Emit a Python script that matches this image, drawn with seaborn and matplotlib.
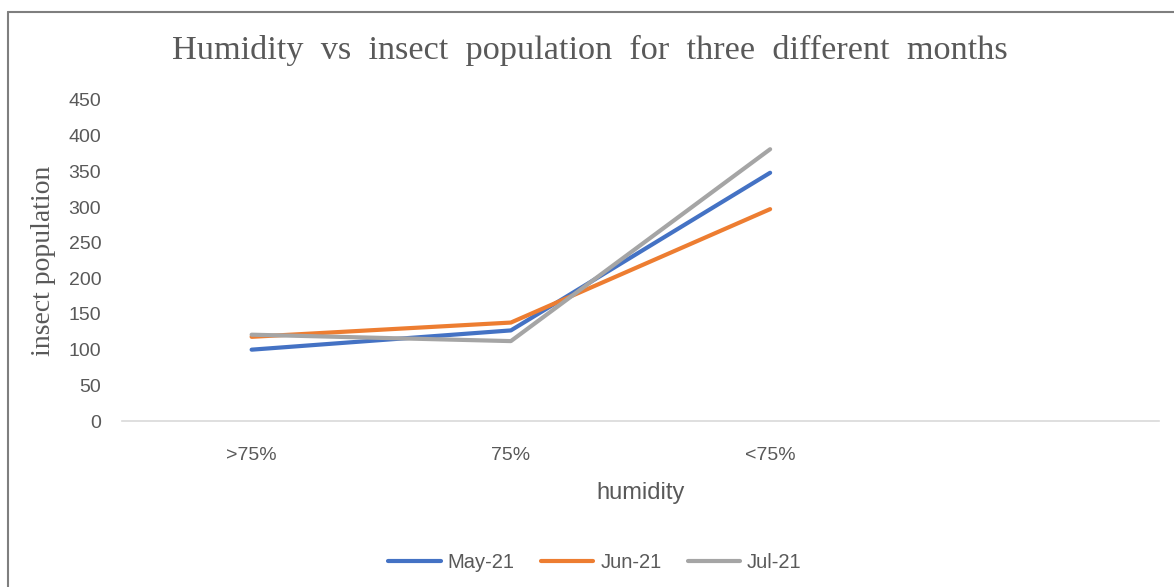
import matplotlib
matplotlib.use("Agg")
import matplotlib.pyplot as plt
from matplotlib.lines import Line2D
import seaborn as sns
import pandas as pd

categories = [">75%", "75%", "<75%"]
series_names = ["May-21", "Jun-21", "Jul-21"]
may_values = [100, 127, 348]
jun_values = [118, 138, 297]
jul_values = [121, 112, 381]
colors = ["#4472C4", "#ED7D31", "#A5A5A5"]

rows = []
for name, vals in zip(series_names, [may_values, jun_values, jul_values]):
    for c, v in zip(categories, vals):
        rows.append({"humidity": c, "population": v, "month": name})
df = pd.DataFrame(rows)

sns.set_theme(style="white")
plt.rcParams["font.family"] = ["Liberation Sans", "DejaVu Sans"]
text_color = "#595959"

fig = plt.figure(figsize=(11.74, 5.87), dpi=100)
ax = fig.add_axes([122/1174, 1-421/587, 1037/1174, 321/587])

sns.lineplot(data=df, x="humidity", y="population", hue="month",
             hue_order=series_names, palette=colors, sort=False,
             linewidth=3, ax=ax, legend=False)

ax.set_xlim(-0.5, 3.5)
ax.set_ylim(0, 450)
ax.set_yticks(range(0, 451, 50))
ax.set_xticks(range(len(categories)))
ax.set_xticklabels(categories)
for s in ["top", "right", "left"]:
    ax.spines[s].set_visible(False)
ax.spines["bottom"].set_color("#D9D9D9")
ax.spines["bottom"].set_linewidth(1.2)
ax.tick_params(axis="both", length=0, labelsize=14, colors=text_color)
ax.tick_params(axis="x", pad=19)
ax.tick_params(axis="y", pad=15)

ax.set_xlabel("humidity", fontsize=17, color=text_color)
ax.xaxis.set_label_coords(0.5, (421-482)/321)
ax.set_ylabel("insect population", fontsize=20, color=text_color,
              family=["Liberation Serif", "DejaVu Serif"])
ax.yaxis.set_label_coords((56-122)/1037, 0.5)

fig.text(590/1174, 1-50/587, "Humidity  vs  insect  population  for  three  different  months",
         ha="center", va="center", fontsize=24.7, color=text_color,
         family=["Liberation Serif", "DejaVu Serif"])

handles = [Line2D([0], [0], color=c, lw=3, solid_capstyle="round") for c in colors]
fig.legend(handles, series_names, loc="center", ncol=3,
           bbox_to_anchor=(595/1174, 1-563/587), frameon=False,
           fontsize=14.5, handlelength=2.6, handletextpad=0.35,
           columnspacing=1.3, labelcolor=text_color)

fig.add_artist(Line2D([7.5/1174, 7.5/1174], [0, 1-11.5/587], color="#7F7F7F", lw=1.5, transform=fig.transFigure))
fig.add_artist(Line2D([7.5/1174, 1], [1-11.5/587, 1-11.5/587], color="#7F7F7F", lw=1.5, transform=fig.transFigure))

fig.savefig("out.png", dpi=100)
